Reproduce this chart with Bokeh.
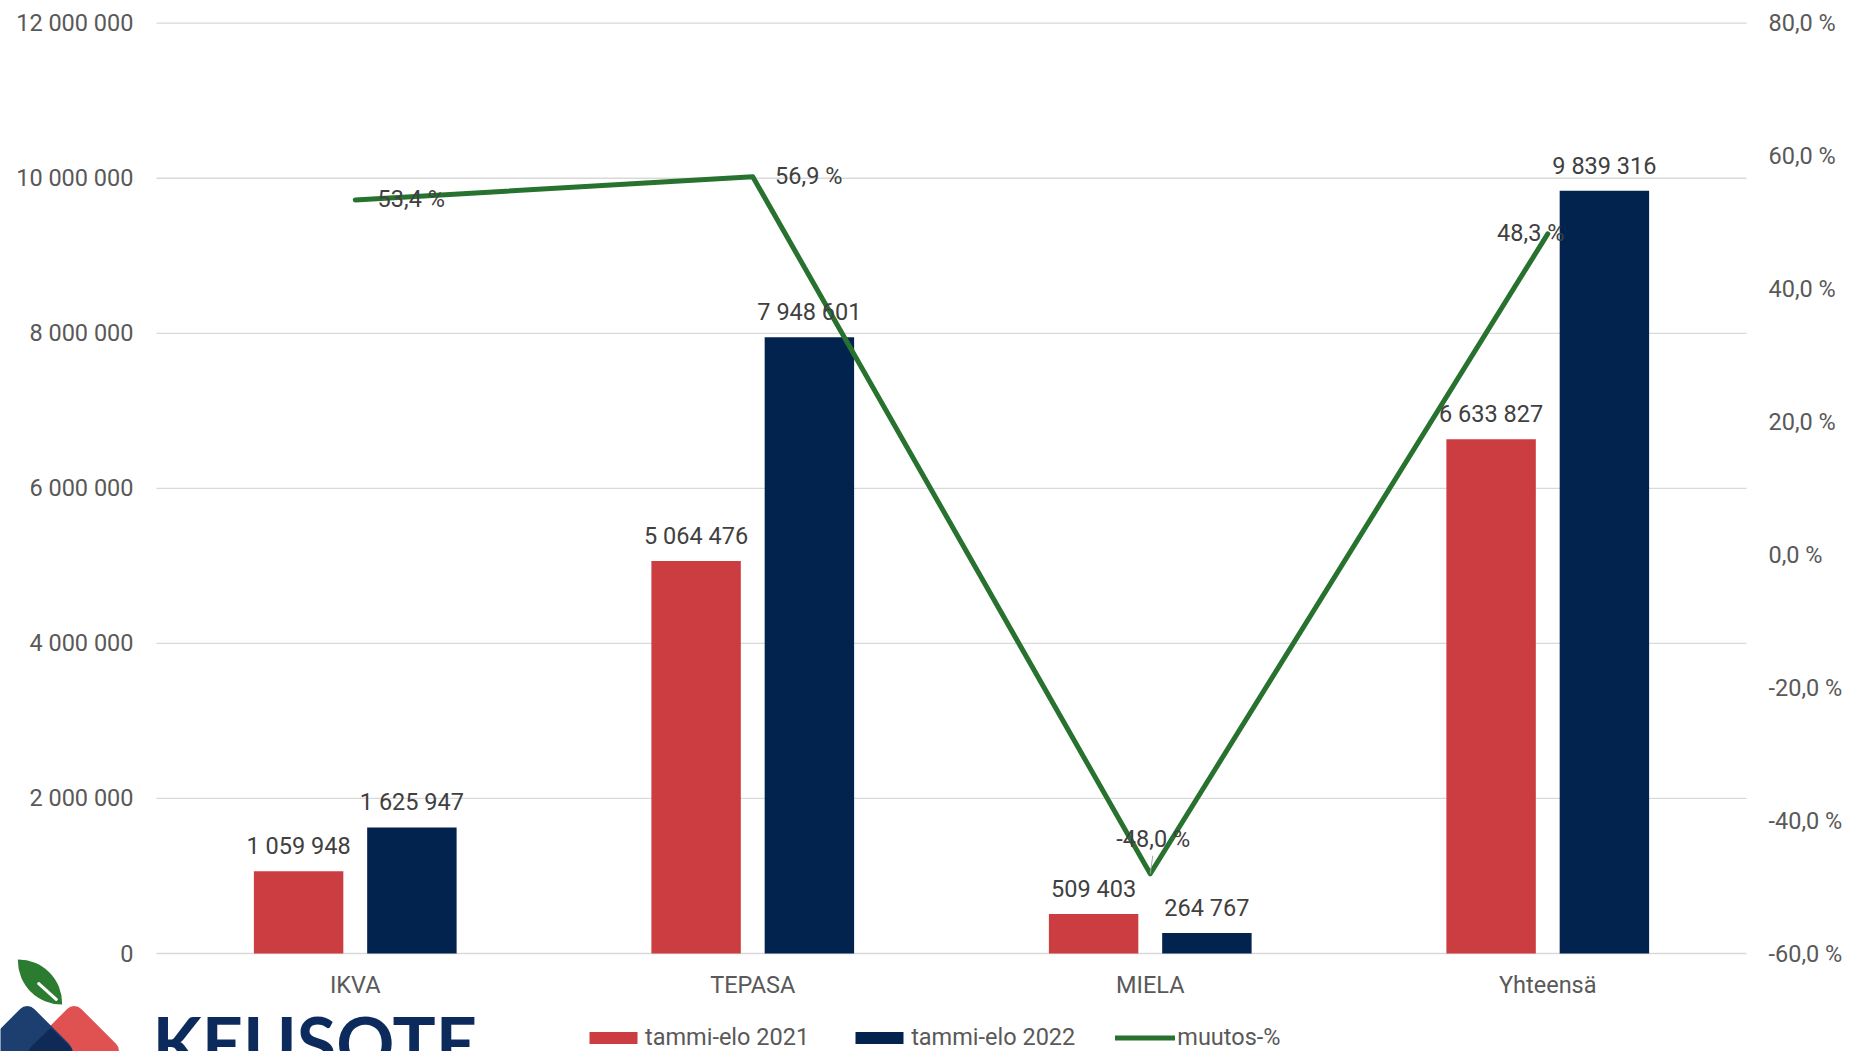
from bokeh.plotting import figure
from bokeh.models import (ColumnDataSource, Range1d, LinearAxis, FixedTicker,
                          CustomJSTickFormatter, Legend, LegendItem, Label)
from bokeh.transform import dodge
from bokeh.core.properties import value
from bokeh.embed import file_html
from bokeh.resources import INLINE

# ---------------- data ----------------
categories = ["IKVA", "TEPASA", "MIELA", "Yhteensä"]
values_2021 = [1059948, 5064476, 509403, 6633827]
values_2022 = [1625947, 7948601, 264767, 9839316]
change_pct = [53.4, 56.9, -48.0, 48.3]
left_ticks = [0, 2000000, 4000000, 6000000, 8000000, 10000000, 12000000]
right_ticks = [-60, -40, -20, 0, 20, 40, 60, 80]
series_names = ["tammi-elo 2021", "tammi-elo 2022", "muutos-%"]

# label placement (screen px offsets for the percent labels)
pct_dx = [56, 56, 3, -17]
pct_dy = [-1, -1, -35, -1]


def fmt_int(v):
    return f"{v:,}".replace(",", " ")


def fmt_pct(v):
    return f"{v:.1f}".replace(".", ",") + " %"


n = len(categories)
src = ColumnDataSource(dict(
    xc=[i + 0.5 for i in range(n)], cat=categories,
    v21=values_2021, v22=values_2022, pct=change_pct,
    l21=[fmt_int(v) for v in values_2021],
    l22=[fmt_int(v) for v in values_2022],
    lp=[fmt_pct(v) for v in change_pct],
    pdx=pct_dx, pdy=pct_dy,
))
grid_src = ColumnDataSource(dict(t=left_ticks, x0=[0] * len(left_ticks), x1=[n] * len(left_ticks)))

RED = "#cc3d42"
NAVY = "#03234f"
GREEN = "#27722f"
FONT = "Roboto"
FS = "23.5px"

# ---- page geometry (pixels) ----
W, H = 1855, 1051
PLOT_L, PLOT_R = 156, 1746      # category band extents
PLOT_T, PLOT_B = 22.7, 953      # value-axis extents
band = (PLOT_R - PLOT_L) / n
ymax = left_ticks[-1]
upp = ymax / (PLOT_B - PLOT_T)              # value units per pixel
pmin, pmax = right_ticks[0], right_ticks[-1]
ppp = (pmax - pmin) / (PLOT_B - PLOT_T)     # percent units per pixel

x_range = Range1d(-PLOT_L / band, n + (W - PLOT_R) / band)
y_range = Range1d(-(H - PLOT_B) * upp, ymax + PLOT_T * upp)

p = figure(x_range=x_range, y_range=y_range, width=W, height=H,
           output_backend="svg", toolbar_location=None, title=None,
           min_border=0, min_border_left=0, min_border_right=0,
           min_border_top=0, min_border_bottom=0)
p.outline_line_color = None
p.background_fill_color = "white"
p.border_fill_color = "white"

p.extra_y_ranges = {"pct": Range1d(pmin - (H - PLOT_B) * ppp, pmax + PLOT_T * ppp),
                    "py": Range1d(H, 0)}
p.extra_x_ranges = {"px": Range1d(0, W)}

p.xgrid.visible = False
p.ygrid.visible = False


def style_axis(ax, standoff):
    ax.axis_line_color = None
    ax.major_tick_line_color = None
    ax.minor_tick_line_color = None
    ax.major_tick_out = 0
    ax.major_tick_in = 0
    ax.minor_tick_out = 0
    ax.major_label_standoff = standoff
    ax.major_label_text_font = FONT
    ax.major_label_text_font_size = FS
    ax.major_label_text_color = "#595959"


# left axis
ya = p.yaxis[0]
ya.fixed_location = 0
ya.ticker = FixedTicker(ticks=left_ticks)
ya.formatter = CustomJSTickFormatter(code=r"return tick.toFixed(0).replace(/\B(?=(\d{3})+(?!\d))/g, ' ');")
style_axis(ya, 23)

# right axis
ra = LinearAxis(y_range_name="pct", ticker=FixedTicker(ticks=right_ticks), fixed_location=n,
                formatter=CustomJSTickFormatter(code="return tick.toFixed(1).replace('.', ',') + ' %';"))
style_axis(ra, 22)
p.add_layout(ra, "right")

# category axis
xa = p.xaxis[0]
xa.fixed_location = 0
xa.ticker = FixedTicker(ticks=[i + 0.5 for i in range(n)])
xa.formatter = CustomJSTickFormatter(args=dict(cats=categories),
                                     code="return cats[Math.round(tick - 0.5)];")
style_axis(xa, 17)

# horizontal gridlines over the plot band only
p.segment(x0="x0", x1="x1", y0="t", y1="t", source=grid_src,
          line_color="#d9d9d9", line_width=1.3)

OFF = 0.1425
BW = 0.225
r21 = p.vbar(x=dodge("xc", -OFF), top="v21", width=BW, source=src,
             fill_color=RED, line_color=None)
r22 = p.vbar(x=dodge("xc", OFF), top="v22", width=BW, source=src,
             fill_color=NAVY, line_color=None)
rl = p.line(x="xc", y="pct", y_range_name="pct", source=src, line_color=GREEN,
            line_width=5, line_cap="round", line_join="round")

# leader line of the displaced MIELA percent label
mi = categories.index("MIELA")
leader = ColumnDataSource(dict(x0=[mi + 0.5 + 2.5 / band], y0=[change_pct[mi] + 18 * ppp],
                               x1=[mi + 0.5], y1=[change_pct[mi]]))
p.segment(x0="x0", y0="y0", x1="x1", y1="y1", source=leader, y_range_name="pct",
          line_color="#a6a6a6", line_width=1)

p.text(x=dodge("xc", -OFF), y="v21", text="l21", source=src,
       text_align="center", text_baseline="alphabetic", y_offset=-25,
       text_font=value(FONT), text_font_size=FS, text_color="#404040")
p.text(x=dodge("xc", OFF), y="v22", text="l22", source=src,
       text_align="center", text_baseline="alphabetic", y_offset=-25,
       text_font=value(FONT), text_font_size=FS, text_color="#404040")
p.text(x="xc", y="pct", y_range_name="pct", text="lp", source=src,
       x_offset="pdx", y_offset="pdy", text_align="center", text_baseline="middle",
       text_font=value(FONT), text_font_size=FS, text_color="#404040")

legend = Legend(items=[LegendItem(label=series_names[0], renderers=[r21]),
                       LegendItem(label=series_names[1], renderers=[r22]),
                       LegendItem(label=series_names[2], renderers=[rl])],
                orientation="horizontal", location=(583, 0),
                glyph_width=60, glyph_height=15, label_standoff=2, spacing=40,
                padding=0, margin=0, border_line_alpha=0, background_fill_alpha=0,
                label_text_font=FONT, label_text_font_size=FS, label_text_color="#595959")
p.add_layout(legend)


# ---------------- logo (decoration, pixel coordinates) ----------------
def box_label(cx, cy, color, pad, radius=0, angle=0):
    return Label(x=cx, y=cy, x_range_name="px", y_range_name="py", text=" ",
                 text_font_size="1px", text_align="center", text_baseline="middle",
                 background_fill_color=color, padding=pad, border_radius=radius,
                 angle=angle, angle_units="deg")


p.add_layout(box_label(74, 1050, "#e05252", 34, 10, 45))
p.add_layout(box_label(27, 1050, "#1d3f6f", 34, 10, 45))
p.add_layout(box_label(50.5, 1050, "#0f2a56", 16, 4, 45))
p.add_layout(box_label(39.5, 981.5, "#2b7b30", 22, (0, 44, 0, 44), 0))
p.add_layout(box_label(47, 991, "#ffffff", (13, 1), 1, -42))
p.add_layout(Label(x=152, y=1041, x_range_name="px", y_range_name="py", text="KEUSOTE",
                   text_font="Lato", text_font_style="bold", text_font_size="72px",
                   text_color="#0c2b5c", text_align="left", text_baseline="alphabetic"))

open("out.html", "w").write(file_html(p, INLINE))
